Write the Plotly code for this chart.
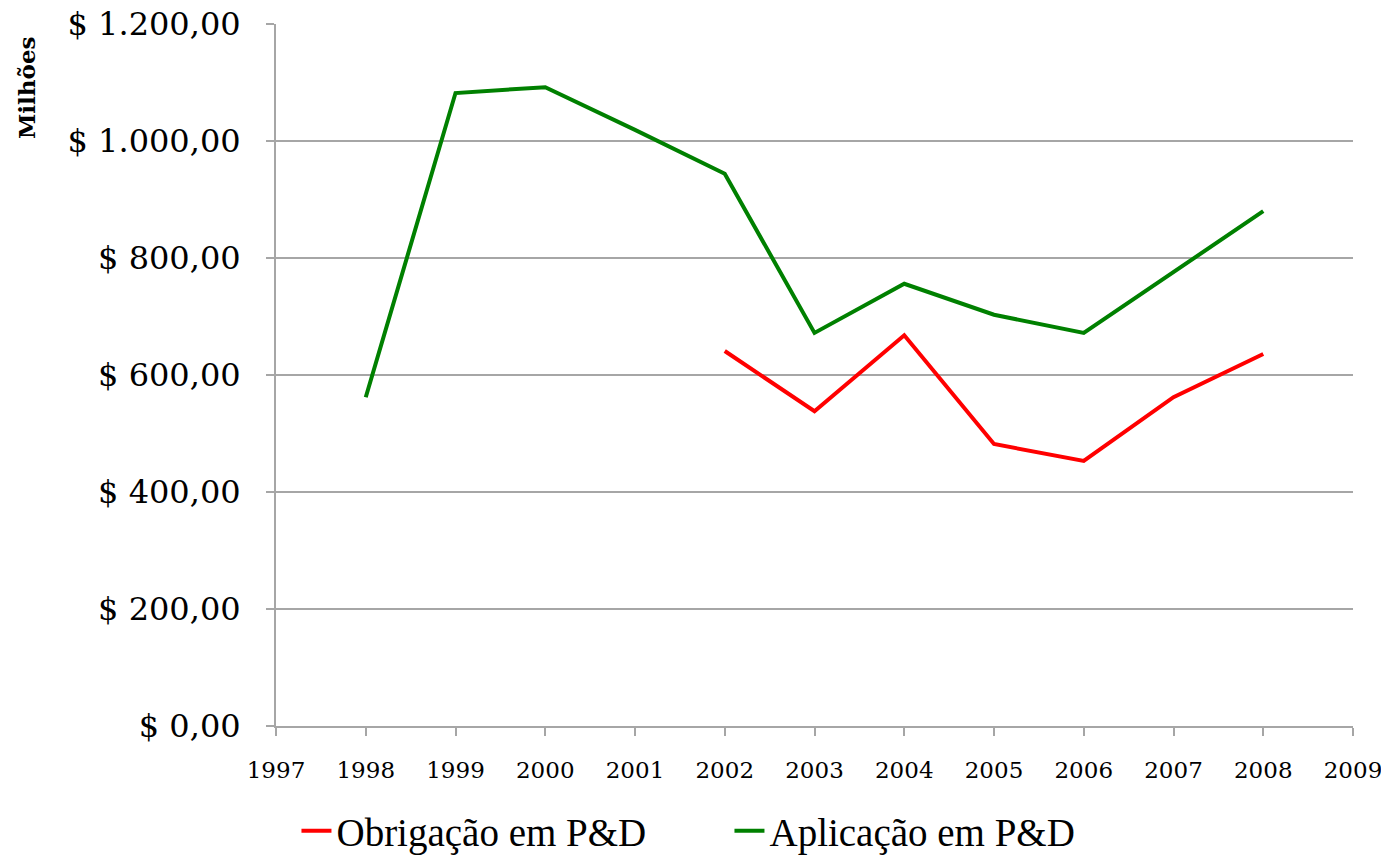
import plotly.graph_objects as go

years = [1998, 1999, 2000, 2001, 2002, 2003, 2004, 2005, 2006, 2007, 2008]
aplicacao = [562, 1082, 1092, 1019, 944, 672, 756, 703, 672, 776, 880]
obrig_years = [2002, 2003, 2004, 2005, 2006, 2007, 2008]
obrigacao = [641, 538, 668, 482, 453, 562, 636]

y_tickvals = [0, 200, 400, 600, 800, 1000, 1200]
y_ticktext = ["$ 0,00", "$ 200,00", "$ 400,00", "$ 600,00", "$ 800,00", "$ 1.000,00", "$ 1.200,00"]
x_tickvals = list(range(1997, 2010))

serif = "Georgia, 'DejaVu Serif', serif"
grid = "#a6a6a6"

fig = go.Figure()
fig.add_trace(go.Scatter(x=obrig_years, y=obrigacao, mode="lines", name="Obrigação em P&D",
                         line=dict(color="#ff0000", width=4)))
fig.add_trace(go.Scatter(x=years, y=aplicacao, mode="lines", name="Aplicação em P&D",
                         line=dict(color="#008000", width=4)))

fig.update_layout(
    width=1381, height=851,
    margin=dict(l=268, r=36, t=16, b=133, autoexpand=False),
    paper_bgcolor="white", plot_bgcolor="white",
    showlegend=True,
    legend=dict(orientation="h", x=0.019, xanchor="left", xref="paper",
                y=0.033, yanchor="middle", yref="container",
                font=dict(family="'Liberation Serif', serif", size=39, color="black"),
                tracegroupgap=0, entrywidth=388, entrywidthmode="pixels"),
    xaxis=dict(range=[1997, 2009], tickvals=x_tickvals, ticktext=[str(v) for v in x_tickvals],
               showgrid=False, showline=True, linecolor=grid, linewidth=2,
               ticks="outside", ticklen=8, tickcolor=grid, tickwidth=2,
               ticklabelstandoff=14, automargin=False, ticklabeloverflow="allow",
               tickfont=dict(family=serif, size=23, color="black"), zeroline=False),
    yaxis=dict(range=[0, 1200], tickvals=y_tickvals, ticktext=y_ticktext,
               showgrid=True, gridcolor=grid, gridwidth=2,
               showline=True, linecolor=grid, linewidth=2,
               ticks="outside", ticklen=8, tickcolor=grid, tickwidth=2,
               ticklabelstandoff=19, automargin=False, ticklabeloverflow="allow",
               tickfont=dict(family=serif, size=32, color="black"), zeroline=False),
    annotations=[dict(text="<b>Milhões</b>", xref="paper", yref="paper",
                      x=-0.231, y=0.909, xanchor="center", yanchor="middle",
                      showarrow=False, textangle=-90,
                      font=dict(family=serif, size=23, color="black"))],
)
fig.write_html("out.html")
